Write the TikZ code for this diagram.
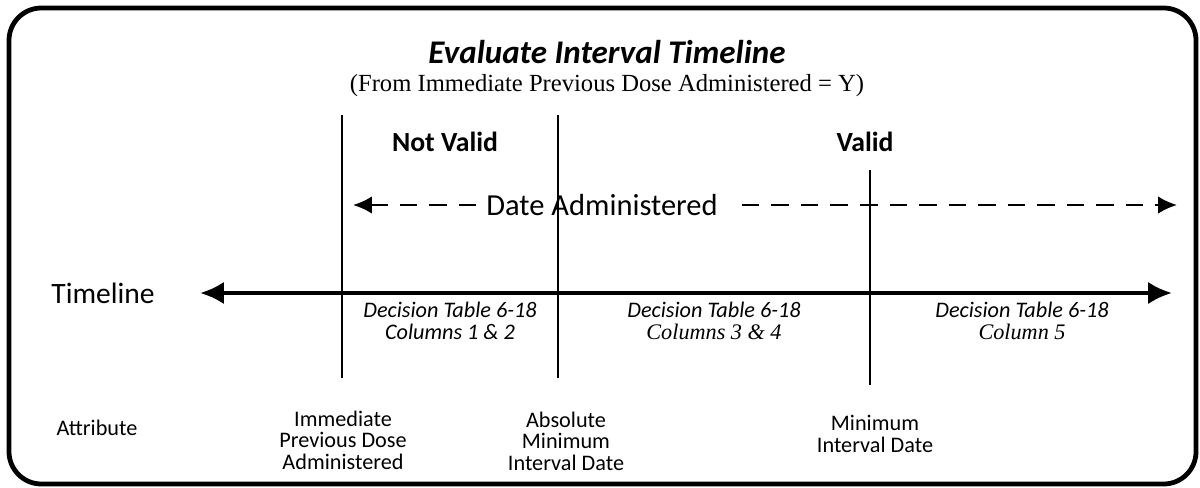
\documentclass[tikz,border=0pt]{standalone}
\usepackage{fontspec}
\setmainfont{Carlito}
\newfontfamily\timesfont{Liberation Serif}
\usetikzlibrary{positioning,arrows.meta}
\tikzstyle{heading}=[font=\fontsize{23.5}{27}\selectfont\bfseries\itshape, inner sep=0pt]
\tikzstyle{subheading}=[font=\timesfont\fontsize{17.5}{20}\selectfont, inner sep=0pt]
\tikzstyle{verdict}=[font=\fontsize{19.7}{23}\selectfont\bfseries, inner sep=0pt]
\tikzstyle{axislabel}=[font=\fontsize{21}{24}\selectfont, inner sep=0pt]
\tikzstyle{datelabel}=[font=\fontsize{21.7}{25}\selectfont, inner xsep=7pt, inner ysep=2pt]
\tikzstyle{table}=[font=\fontsize{15.8}{15.6}\selectfont\itshape, inner sep=0pt, align=center]
\tikzstyle{attr}=[font=\fontsize{15.8}{15.3}\selectfont, inner sep=0pt, align=center]
\tikzstyle{marker}=[line width=1.5pt]
\tikzstyle{dateline}=[->, line width=1.8pt, dash pattern=on 12.5pt off 8.5pt]
\tikzset{>={Latex[length=13.5pt, width=12.5pt]}}

\begin{document}
\begin{tikzpicture}[x=0.025cm, y=-0.025cm]
    \useasboundingbox (0,0) rectangle (1200,487);
    \draw[line width=3.4pt, rounded corners=23pt] (9,8) rectangle (1196,484);

        % title
        \node(title)[heading] at (607,52) {Evaluate Interval Timeline};
        \node(subtitle)[subheading, below=7pt of title] {(From Immediate Previous Dose Administered = Y)};

        % markers on the timeline
        \coordinate (prevTop) at (342,115);
        \coordinate (prevBot) at (342,378);
        \coordinate (absTop) at (558,115);
        \coordinate (absBot) at (558,378);
        \coordinate (minTop) at (870,170);
        \coordinate (minBot) at (870,385);
        \draw[marker] (prevTop) -- (prevBot);
        \draw[marker] (absTop) -- (absBot);
        \draw[marker] (minTop) -- (minBot);

        \node(notValid)[verdict] at (445,142) {Not Valid};
        \node(valid)[verdict] at (865,142) {Valid};

        % date administered
        \node(date)[datelabel] at (602,205) {Date Administered};
        \coordinate (dateL) at (353,205);
        \coordinate (dateR) at (1177,205);
        \draw[dateline] (date.west) -- (dateL);
        \draw[dateline] ([xshift=10pt]date.east) -- (dateR);

        % timeline
        \node(timeline)[axislabel] at (103,293) {Timeline};
        \coordinate (tlL) at (200,293);
        \coordinate (tlR) at (1172,293);
        \draw[<->, line width=3pt, >={Latex[length=17pt, width=16pt]}] (tlL) -- (tlR);

        \node(table1)[table] at (450,321) {Decision Table 6-18\\Columns 1 \& 2};
        \node(table2)[table] at (714,321) {Decision Table 6-18\\{\timesfont Columns 3 \& 4}};
        \node(table3)[table] at (1022,321) {Decision Table 6-18\\{\timesfont Column 5}};

        % attributes
        \node(attribute)[attr] at (97,428) {Attribute};
        \node(prevDose)[attr] at (343,440) {Immediate\\Previous Dose\\Administered};
        \node(absMin)[attr] at (566,441) {Absolute\\Minimum\\Interval Date};
        \node(minDate)[attr] at (875,434) {Minimum\\Interval Date};

    \end{tikzpicture}
\end{document}
